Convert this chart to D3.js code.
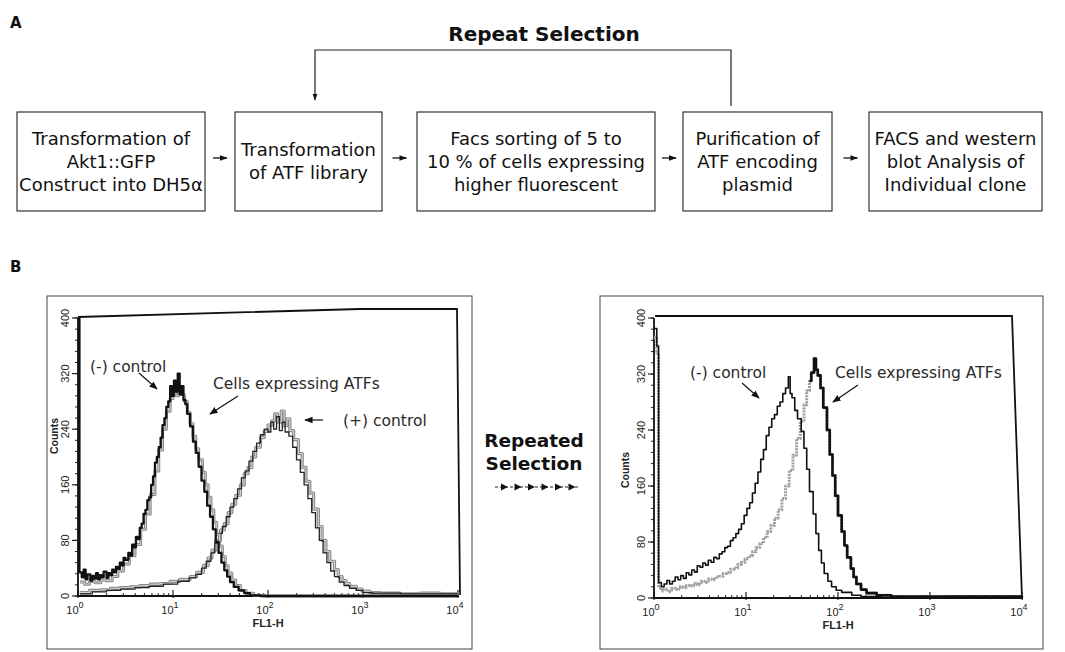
<!DOCTYPE html>
<html>
<head>
  <meta charset="utf-8">
  <script src="https://d3js.org/d3.v7.min.js"></script>
  <style>
    body { margin: 0; background: #fff; }
    svg { display: block; }
    .box { fill: none; stroke: #222; stroke-width: 1.1; }
    .box-text { font-family: "DejaVu Sans", Verdana, sans-serif; font-size: 18px; fill: #111; text-anchor: middle; }
    .bold { font-family: "DejaVu Sans", Verdana, sans-serif; font-weight: bold; fill: #111; }
    .note { font-family: "DejaVu Sans", Verdana, sans-serif; font-size: 15.5px; fill: #2a2a2a; }
    .tick { font-family: "Liberation Sans", Arial, sans-serif; font-size: 11px; fill: #222; }
  </style>
</head>
<body>
  <svg id="fig" width="1065" height="652"></svg>
  <script>
    // ---- data ----
    const STEPS = [
      ["Transformation of", "Akt1::GFP", "Construct into DH5α"],
      ["Transformation", "of ATF library"],
      ["Facs sorting of 5 to", "10 % of cells expressing", "higher fluorescent"],
      ["Purification of", "ATF encoding", "plasmid"],
      ["FACS and western", "blot Analysis of", "Individual clone"]
    ];
    const LOOP_LABEL = "Repeat Selection";
    const MID_LABEL  = ["Repeated", "Selection"];

    const X_DECADES  = [0, 1, 2, 3, 4];          // 10^0 .. 10^4 (FL1-H)
    const Y_TICKS    = [0, 80, 160, 240, 320, 400];
    const X_TITLE    = "FL1-H";
    const Y_TITLE    = "Counts";

    // histograms as [log10(FL1-H), counts]
    // left panel: before selection
    const NEG_CTRL_1 = [[0,400],[0.015,34],[0.04,27],[0.06,38],[0.08,24],[0.1,31],[0.13,22],[0.15,29],[0.17,25],[0.19,33],[0.21,24],[0.23,30],[0.25,27],[0.27,35],[0.3,26],[0.32,33],[0.34,30],[0.36,38],[0.38,34],[0.4,42],[0.42,39],[0.44,48],[0.46,44],[0.48,55],[0.5,52],[0.53,62],[0.55,58],[0.57,74],[0.59,70],[0.61,85],[0.63,82],[0.65,98],[0.67,104],[0.69,118],[0.71,124],[0.73,138],[0.75,142],[0.77,160],[0.79,172],[0.81,192],[0.83,200],[0.85,214],[0.87,228],[0.89,246],[0.91,256],[0.93,272],[0.95,280],[0.97,302],[0.99,288],[1.01,310],[1.03,294],[1.05,320],[1.07,290],[1.09,302],[1.11,282],[1.13,276],[1.15,262],[1.18,244],[1.21,222],[1.24,206],[1.27,186],[1.3,166],[1.33,150],[1.36,130],[1.39,114],[1.42,96],[1.45,78],[1.48,62],[1.51,48],[1.54,37],[1.57,28],[1.6,20],[1.64,13],[1.69,8],[1.75,4],[1.81,1],[1.92,0],[4,0]];
    const ATF_1      = [[0.02,20],[0.07,17],[0.12,21],[0.18,19],[0.24,23],[0.3,22],[0.36,28],[0.42,36],[0.48,46],[0.54,58],[0.6,74],[0.66,96],[0.71,118],[0.76,146],[0.81,180],[0.85,210],[0.89,240],[0.93,266],[0.97,284],[1.0,296],[1.03,288],[1.06,300],[1.09,290],[1.12,280],[1.15,264],[1.18,248],[1.21,230],[1.24,212],[1.27,196],[1.31,178],[1.34,160],[1.37,142],[1.4,124],[1.43,106],[1.46,88],[1.49,72],[1.52,57],[1.55,44],[1.58,33],[1.62,23],[1.66,15],[1.71,8],[1.77,4],[1.85,1],[1.96,0],[4,0]];
    const POS_CTRL_1 = [[0.02,5],[0.12,8],[0.23,9],[0.34,11],[0.44,12],[0.55,13],[0.65,15],[0.76,17],[0.86,18],[0.97,21],[1.07,24],[1.18,28],[1.25,34],[1.32,44],[1.37,55],[1.41,66],[1.45,80],[1.5,95],[1.54,104],[1.58,120],[1.62,132],[1.66,145],[1.71,160],[1.75,176],[1.79,185],[1.83,200],[1.87,214],[1.92,228],[1.96,237],[2.0,246],[2.04,252],[2.07,262],[2.1,250],[2.14,266],[2.17,245],[2.2,255],[2.23,238],[2.27,225],[2.32,205],[2.36,185],[2.4,165],[2.44,148],[2.48,125],[2.53,100],[2.57,80],[2.61,64],[2.65,50],[2.7,38],[2.74,28],[2.78,22],[2.82,18],[2.86,14],[2.93,10],[2.99,7],[3.07,5],[3.18,4],[3.39,3],[3.6,4],[3.81,3],[4,5]];
    const POS_CTRL_2 = [[0.02,3],[0.15,6],[0.3,8],[0.45,10],[0.6,12],[0.75,14],[0.9,17],[1.05,21],[1.17,26],[1.24,31],[1.3,40],[1.35,50],[1.4,62],[1.44,76],[1.48,90],[1.52,100],[1.56,114],[1.6,128],[1.64,140],[1.68,154],[1.72,170],[1.76,180],[1.8,194],[1.84,208],[1.88,220],[1.92,232],[1.96,240],[2.0,236],[2.03,250],[2.06,240],[2.09,258],[2.12,238],[2.15,250],[2.18,236],[2.22,230],[2.26,214],[2.3,196],[2.34,178],[2.38,160],[2.42,140],[2.46,120],[2.5,98],[2.54,80],[2.58,62],[2.62,48],[2.66,36],[2.7,28],[2.75,20],[2.8,15],[2.86,11],[2.93,8],[3.0,5],[3.1,4],[3.4,3],[3.7,3],[4,4]];

    // right panel: after repeated selection
    const NEG_CTRL_2 = [[0,385],[0.03,360],[0.05,22],[0.08,16],[0.11,20],[0.14,25],[0.17,20],[0.2,24],[0.23,30],[0.26,26],[0.29,32],[0.32,28],[0.35,36],[0.38,33],[0.41,40],[0.44,37],[0.47,46],[0.5,44],[0.53,50],[0.56,47],[0.59,54],[0.62,51],[0.65,58],[0.68,56],[0.71,63],[0.74,66],[0.77,72],[0.8,74],[0.83,82],[0.86,86],[0.89,92],[0.92,98],[0.95,106],[0.98,118],[1.01,128],[1.04,136],[1.07,150],[1.1,164],[1.13,180],[1.16,198],[1.19,212],[1.22,232],[1.25,244],[1.28,256],[1.31,262],[1.34,274],[1.37,280],[1.4,292],[1.43,300],[1.46,316],[1.48,292],[1.5,286],[1.53,268],[1.56,256],[1.6,238],[1.63,214],[1.66,184],[1.69,152],[1.73,120],[1.76,92],[1.79,68],[1.82,50],[1.85,35],[1.89,24],[1.93,16],[1.98,11],[2.04,8],[2.15,4],[2.25,2],[2.47,1],[3.2,2],[4,3]];
    const ATF_2      = [[0,372],[0.03,350],[0.05,15],[0.08,10],[0.11,13],[0.15,9],[0.19,14],[0.23,12],[0.27,16],[0.31,15],[0.35,18],[0.39,17],[0.43,21],[0.47,19],[0.51,24],[0.55,22],[0.59,27],[0.63,26],[0.67,30],[0.71,31],[0.75,35],[0.79,36],[0.83,41],[0.87,43],[0.91,48],[0.95,51],[0.99,56],[1.03,60],[1.07,66],[1.11,72],[1.15,78],[1.19,86],[1.23,95],[1.27,104],[1.31,114],[1.35,126],[1.39,142],[1.43,160],[1.47,182],[1.51,204],[1.55,228],[1.59,252],[1.63,276],[1.66,296],[1.69,310],[1.71,322],[1.74,342],[1.76,326],[1.78,318],[1.81,300],[1.84,272],[1.88,240],[1.91,205],[1.94,175],[1.97,146],[2.0,118],[2.04,95],[2.07,75],[2.1,58],[2.14,42],[2.17,30],[2.2,20],[2.25,12],[2.31,7],[2.42,4],[2.58,2],[3.3,2],[4,3]];
    const ATF_2_PEAK = 1.74;

    // ---- layout ----
    const svg = d3.select("#fig");
    const BOX_X   = [[17, 205], [235, 382], [417, 655], [683, 832], [869, 1042]];
    const BOX_TOP = 112, BOX_BOT = 211, ARROW_Y = 158;
    const LINE_H  = 23;
    const LOOP    = { fromX: 731, toX: 315, topY: 50 };

    const PANELS = [
      { frame: [47, 296, 472, 649], x0: 78, x4: 458, yBase: 596, yTop: 318,
        top: [[78, 317], [360, 309], [457, 309], [460, 595]], yLab: 69, yTitleX: 58, yTitleY: 436 },
      { frame: [600, 296, 1043, 649], x0: 654, x4: 1022, yBase: 598, yTop: 318,
        top: [[655, 316], [1012, 316], [1022, 598]], yLab: 645, yTitleX: 629, yTitleY: 470 }
    ];

    // ---- arrow head markers ----
    const defs = svg.append("defs");
    defs.append("marker").attr("id", "head")
      .attr("viewBox", "0 0 10 10").attr("refX", 9).attr("refY", 5)
      .attr("markerWidth", 7).attr("markerHeight", 7).attr("orient", "auto-start-reverse")
      .append("path").attr("d", "M0,1 L10,5 L0,9 z").attr("fill", "#111");
    defs.append("marker").attr("id", "headS")
      .attr("viewBox", "0 0 10 10").attr("refX", 9).attr("refY", 5)
      .attr("markerWidth", 6).attr("markerHeight", 6).attr("orient", "auto")
      .append("path").attr("d", "M0,1.5 L10,5 L0,8.5 z").attr("fill", "#111");

    // ---- panel letters ----
    svg.append("text").attr("class", "bold").attr("x", 10).attr("y", 28).style("font-size", "15px").text("A");
    svg.append("text").attr("class", "bold").attr("x", 10).attr("y", 272).style("font-size", "15px").text("B");

    // ---- A: flow chart ----
    STEPS.forEach((lines, i) => {
      const [x1, x2] = BOX_X[i];
      svg.append("rect").attr("class", "box")
        .attr("x", x1).attr("y", BOX_TOP).attr("width", x2 - x1).attr("height", BOX_BOT - BOX_TOP);
      const cx = (x1 + x2) / 2;
      const mid = (BOX_TOP + BOX_BOT) / 2;
      const first = mid - (lines.length - 1) * LINE_H / 2 + 6;
      lines.forEach((t, j) => {
        svg.append("text").attr("class", "box-text")
          .attr("x", cx).attr("y", first + j * LINE_H).text(t);
      });
      if (i < STEPS.length - 1) {
        const gapL = x2, gapR = BOX_X[i + 1][0];
        const c = (gapL + gapR) / 2;
        svg.append("line")
          .attr("x1", c - 7).attr("x2", c + 7).attr("y1", ARROW_Y).attr("y2", ARROW_Y)
          .attr("stroke", "#111").attr("stroke-width", 1.3).attr("marker-end", "url(#headS)");
      }
    });

    // repeat loop
    svg.append("path")
      .attr("d", `M${LOOP.fromX},${BOX_TOP - 6} V${LOOP.topY} H${LOOP.toX} V${BOX_TOP - 12}`)
      .attr("fill", "none").attr("stroke", "#222").attr("stroke-width", 1.2)
      .attr("marker-end", "url(#headS)");
    svg.append("text").attr("class", "bold").style("font-size", "20px")
      .attr("x", 544).attr("y", 41).attr("text-anchor", "middle").text(LOOP_LABEL);

    // ---- B: middle label ----
    MID_LABEL.forEach((t, j) => {
      svg.append("text").attr("class", "bold").style("font-size", "18.5px")
        .attr("x", 534).attr("y", 447 + j * 23).attr("text-anchor", "middle").text(t);
    });
    svg.append("line").attr("x1", 495).attr("x2", 578).attr("y1", 487).attr("y2", 487)
      .attr("stroke", "#222").attr("stroke-width", 1.2).attr("stroke-dasharray", "3,2");
    d3.range(6).forEach(k => {
      const hx = 508 + k * 13.5;
      svg.append("path").attr("d", `M${hx - 7},483.5 L${hx},487 L${hx - 7},490.5 z`).attr("fill", "#111");
    });

    // ---- B: histograms ----
    function drawPanel(p, curves) {
      const [fx1, fy1, fx2, fy2] = p.frame;
      svg.append("rect").attr("x", fx1).attr("y", fy1).attr("width", fx2 - fx1).attr("height", fy2 - fy1)
        .attr("fill", "none").attr("stroke", "#444").attr("stroke-width", 1);

      const x = d3.scaleLinear().domain([0, 4]).range([p.x0, p.x4]);
      const y = d3.scaleLinear().domain([0, 400]).range([p.yBase, p.yTop]);
      const g = svg.append("g");

      // inner frame (top and right edges as scanned)
      g.append("path").attr("d", d3.line()(p.top))
        .attr("fill", "none").attr("stroke", "#111").attr("stroke-width", 1.8);

      // minor/major ticks on x (log decades)
      const minor = [];
      X_DECADES.slice(0, -1).forEach(d => d3.range(2, 10).forEach(k => minor.push(d + Math.log10(k))));
      g.selectAll(".xm").data(minor).enter().append("line")
        .attr("x1", d => x(d)).attr("x2", d => x(d)).attr("y1", p.yBase).attr("y2", p.yBase - 3)
        .attr("stroke", "#222").attr("stroke-width", 1);
      g.selectAll(".xM").data(X_DECADES).enter().append("line")
        .attr("x1", d => x(d)).attr("x2", d => x(d)).attr("y1", p.yBase + 2).attr("y2", p.yBase - 6)
        .attr("stroke", "#222").attr("stroke-width", 1.2);
      g.append("line").attr("x1", p.x0).attr("x2", p.x4 + 1).attr("y1", p.yBase).attr("y2", p.yBase)
        .attr("stroke", "#111").attr("stroke-width", 1.8);

      const lab = g.selectAll(".xl").data(X_DECADES).enter().append("text").attr("class", "tick")
        .attr("x", d => x(d) - 3).attr("y", p.yBase + 18).attr("text-anchor", "middle");
      lab.append("tspan").text("10");
      lab.append("tspan").attr("dy", -6).style("font-size", "9px").text(d => d);
      g.append("text").attr("class", "tick").style("font-weight", "bold")
        .attr("x", x(2)).attr("y", p.yBase + 31).attr("text-anchor", "middle").text(X_TITLE);

      // y axis
      g.selectAll(".ym").data(d3.range(0, 401, 16)).enter().append("line")
        .attr("x1", p.x0 - 3).attr("x2", p.x0).attr("y1", d => y(d)).attr("y2", d => y(d))
        .attr("stroke", "#222").attr("stroke-width", 1);
      g.selectAll(".yM").data(Y_TICKS).enter().append("line")
        .attr("x1", p.x0 - 6).attr("x2", p.x0).attr("y1", d => y(d)).attr("y2", d => y(d))
        .attr("stroke", "#222").attr("stroke-width", 1.2);
      g.append("line").attr("x1", p.x0).attr("x2", p.x0).attr("y1", p.yBase).attr("y2", p.yTop)
        .attr("stroke", "#111").attr("stroke-width", 1.8);
      g.selectAll(".yl").data(Y_TICKS).enter().append("text").attr("class", "tick")
        .attr("transform", d => `translate(${p.yLab},${y(d)}) rotate(-90)`)
        .attr("text-anchor", "middle").text(d => d);
      g.append("text").attr("class", "tick").style("font-weight", "bold").style("font-size", "10.5px")
        .attr("transform", `translate(${p.yTitleX},${p.yTitleY}) rotate(-90)`)
        .attr("text-anchor", "middle").text(Y_TITLE);

      const line = d3.line().x(d => x(d[0])).y(d => y(d[1])).curve(d3.curveStepAfter);
      curves.forEach(c => {
        const pts = c.filter ? c.data.filter(c.filter) : c.data;
        g.append("path").attr("d", line(pts)).attr("fill", "none")
          .attr("stroke", c.color).attr("stroke-width", c.width)
          .attr("stroke-dasharray", c.dash || null).attr("stroke-linejoin", "round");
      });
    }

    drawPanel(PANELS[0], [
      { data: POS_CTRL_1, color: "#8a8a8a", width: 3.2 },
      { data: POS_CTRL_1, color: "#d8d8d8", width: 1 },
      { data: POS_CTRL_2, color: "#222", width: 1.3 },
      { data: ATF_1, color: "#8a8a8a", width: 3 },
      { data: ATF_1, color: "#e0e0e0", width: 0.8 },
      { data: NEG_CTRL_1, color: "#111", width: 2.3 }
    ]);
    drawPanel(PANELS[1], [
      { data: ATF_2, color: "#a0a0a0", width: 3, dash: "2,1" },
      { data: ATF_2, color: "#111", width: 2.6, filter: d => d[0] >= ATF_2_PEAK - 0.05 },
      { data: NEG_CTRL_2, color: "#111", width: 1.6 }
    ]);

    // ---- annotations ----
    function note(txt, x, y) {
      svg.append("text").attr("class", "note").attr("x", x).attr("y", y).text(txt);
    }
    function pointer(x1, y1, x2, y2) {
      svg.append("line").attr("x1", x1).attr("y1", y1).attr("x2", x2).attr("y2", y2)
        .attr("stroke", "#111").attr("stroke-width", 1.2).attr("marker-end", "url(#head)");
    }
    note("(-) control", 90, 372);
    pointer(139, 373, 157, 389);
    note("Cells expressing ATFs", 213, 389);
    pointer(238, 396, 210, 414);
    note("(+) control", 343, 426);
    pointer(323, 420, 305, 420);

    note("(-) control", 690, 378);
    pointer(742, 383, 759, 398);
    note("Cells expressing ATFs", 835, 378);
    pointer(858, 385, 833, 402);
  </script>
</body>
</html>
